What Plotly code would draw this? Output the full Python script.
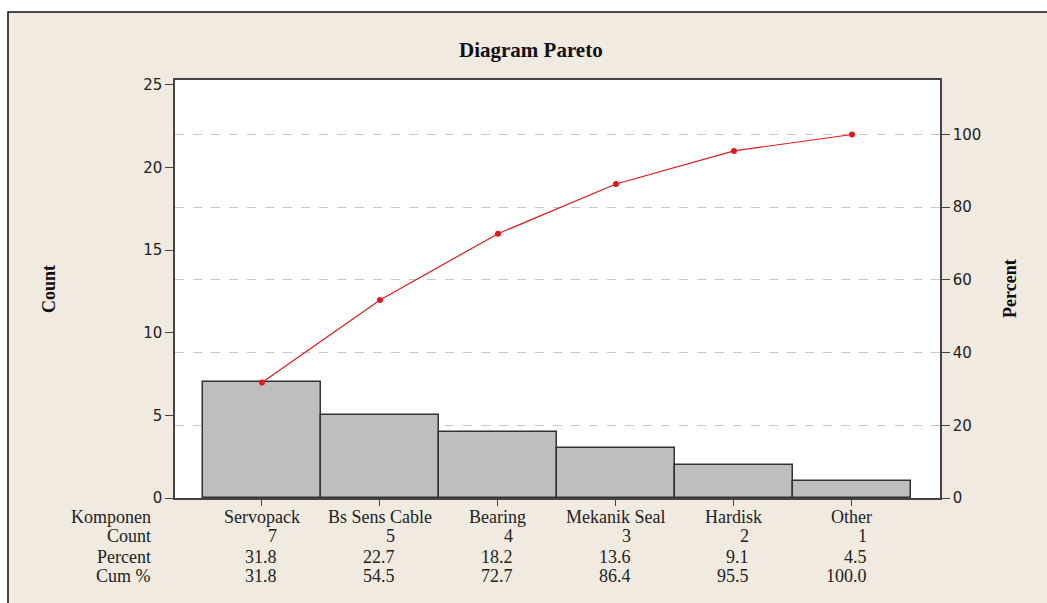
import plotly.graph_objects as go

# ---- data ----
categories = ["Servopack", "Bs Sens Cable", "Bearing", "Mekanik Seal", "Hardisk", "Other"]
counts = [7, 5, 4, 3, 2, 1]
percent = [31.8, 22.7, 18.2, 13.6, 9.1, 4.5]
cum_percent = [31.8, 54.5, 72.7, 86.4, 95.5, 100.0]
left_ticks = [0, 5, 10, 15, 20, 25]
right_ticks = [0, 20, 40, 60, 80, 100]
row_labels = ["Komponen", "Count", "Percent", "Cum %"]

# ---- layout geometry (pixels) ----
W, H = 1047, 603
L, R, T, B = 175, 940, 80, 498


def px(x):
    return (x - L) / (R - L)


def py(y):
    return (B - y) / (B - T)


xs = list(range(len(categories)))

fig = go.Figure()
fig.add_trace(go.Bar(
    x=xs, y=counts, width=1.0,
    marker=dict(color="#BEBEBE", line=dict(color="#333333", width=1.5)),
    showlegend=False, hoverinfo="skip"))
fig.add_trace(go.Scatter(
    x=xs, y=cum_percent, yaxis="y2", mode="lines+markers",
    line=dict(color="#DC1A1E", width=1.2),
    marker=dict(color="#DC1A1E", size=6),
    showlegend=False, hoverinfo="skip"))

tickfont = dict(family="DejaVu Sans", size=15, color="#222222")
serif = "Liberation Serif"

fig.update_layout(
    width=W, height=H,
    margin=dict(l=L, r=W - R, t=T, b=H - B, pad=0),
    paper_bgcolor="#F0EAE1",
    plot_bgcolor="#FFFFFF",
    bargap=0,
    xaxis=dict(range=[-0.737, 5.746], tickvals=xs, showticklabels=False,
               ticks="outside", ticklen=6, tickwidth=1.2, tickcolor="#444444",
               showline=True, linecolor="#444444", linewidth=1.5, mirror=True,
               showgrid=False, zeroline=False, fixedrange=True),
    yaxis=dict(range=[0, 25.3], tickvals=left_ticks, ticks="outside", ticklen=8,
               tickwidth=1.2, tickcolor="#444444", tickfont=tickfont,
               showline=True, linecolor="#444444", linewidth=1.5,
               showgrid=False, zeroline=False, fixedrange=True),
    yaxis2=dict(range=[0, 115], tickvals=right_ticks, overlaying="y", side="right",
                ticks="outside", ticklen=8, tickwidth=1.2, tickcolor="#444444",
                tickfont=tickfont, showline=True, linecolor="#444444", linewidth=1.5,
                showgrid=True, gridcolor="#C8C8C8", griddash="dash", gridwidth=1,
                zeroline=False, fixedrange=True),
)

shapes = [
    # white outside the frame (top strip and left strip)
    dict(type="rect", xref="paper", yref="paper", x0=px(-20), x1=px(1080),
         y0=py(12), y1=py(-20), fillcolor="white", line=dict(width=0), layer="above"),
    dict(type="rect", xref="paper", yref="paper", x0=px(-20), x1=px(8),
         y0=py(640), y1=py(12), fillcolor="white", line=dict(width=0), layer="above"),
    # frame border
    dict(type="rect", xref="paper", yref="paper", x0=px(8), x1=px(1080),
         y0=py(640), y1=py(12), fillcolor="rgba(0,0,0,0)",
         line=dict(color="#111111", width=1.5), layer="above"),
]
fig.update_layout(shapes=shapes)

ann = []
ann.append(dict(text="<b>Diagram Pareto</b>", xref="paper", yref="paper",
                x=px(531), y=py(50), xanchor="center", yanchor="middle",
                showarrow=False, font=dict(family=serif, size=21, color="#111111")))
ann.append(dict(text="<b>Count</b>", xref="paper", yref="paper",
                x=px(49), y=py(289), xanchor="center", yanchor="middle", textangle=-90,
                showarrow=False, font=dict(family=serif, size=18, color="#111111")))
ann.append(dict(text="<b>Percent</b>", xref="paper", yref="paper",
                x=px(1010), y=py(288), xanchor="center", yanchor="middle", textangle=-90,
                showarrow=False, font=dict(family=serif, size=18, color="#111111")))

row_y = [517, 536, 557, 576]
tfont = dict(family=serif, size=18, color="#222222")
for lab, yy in zip(row_labels, row_y):
    ann.append(dict(text=lab, xref="paper", yref="paper", x=px(153), y=py(yy),
                    xanchor="right", yanchor="middle", showarrow=False, font=tfont))

for i, cat in enumerate(categories):
    ann.append(dict(text=cat, xref="x", yref="paper", x=i, y=py(row_y[0]),
                    xanchor="center", yanchor="middle", showarrow=False, font=tfont))
    for vals, yy, fmt in ((counts, row_y[1], "{:d}"), (percent, row_y[2], "{:.1f}"),
                          (cum_percent, row_y[3], "{:.1f}")):
        ann.append(dict(text=fmt.format(vals[i]), xref="x", yref="paper",
                        x=i + 0.145, y=py(yy), xanchor="right", yanchor="middle",
                        showarrow=False, font=tfont))

fig.update_layout(annotations=ann)

fig.write_html("out.html", config={"displayModeBar": False},
               post_script="document.body.style.margin='0';document.body.style.overflow='hidden';")
